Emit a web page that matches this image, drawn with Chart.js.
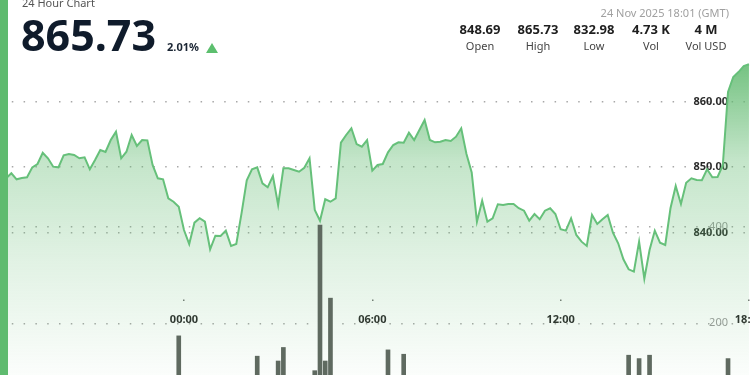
<!DOCTYPE html>
<html>
<head>
<meta charset="utf-8">
<script src="https://cdn.jsdelivr.net/npm/chart.js@4/dist/chart.umd.min.js"></script>
<style>
  html, body { margin: 0; padding: 0; width: 750px; height: 375px; overflow: hidden; background: #fff; font-family: 'Noto Sans', sans-serif; }
  #wrap { position: absolute; left: -20px; top: -20px; width: 840px; height: 460px; }
  #edge { position: absolute; left: 0; top: 0; width: 8px; height: 375px; background: #5fbb6f; z-index: 3; }
  .t { position: absolute; line-height: 1; white-space: nowrap; z-index: 2; }
  .c { transform: translateX(-50%); }
  #title { left: 22px; top: -3px; font-size: 11px; color: #555; }
  #last { left: 21px; top: 13px; font-size: 43px; font-weight: 700; color: #0f1b2b; }
  #chg { left: 167px; top: 41px; font-size: 11px; font-weight: 700; color: #1a2533; }
  #tri { position: absolute; left: 206px; top: 43px; width: 0; height: 0; border-left: 6.5px solid transparent; border-right: 6.5px solid transparent; border-bottom: 10px solid #5cbf6e; z-index: 2; }
  #date { right: 21px; top: 7px; font-size: 11px; color: #a0a0a0; }
  .v { top: 23px; font-size: 13px; font-weight: 700; color: #1e1e1e; }
  .l { top: 40px; font-size: 11px; color: #444; }
</style>
</head>
<body>
<div id="wrap"><canvas id="chart"></canvas></div>
<div id="edge"></div>
<div class="t" id="title">24 Hour Chart</div>
<div class="t" id="last">865.73</div>
<div class="t" id="chg">2.01%</div>
<div id="tri"></div>
<div class="t" id="date">24 Nov 2025 18:01 (GMT)</div>
<div id="stats"></div>
<script>
// minutes from midnight 24 Nov, 10 min steps from 18:10 the day before
const times = [];
for (let m = -350; m <= 1080; m += 10) times.push(m);

const prices = [
  848.69, 848.31, 849.07, 848.15, 848.35, 848.46, 849.98, 850.49, 852.21, 851.36,
  850.08, 849.98, 851.82, 852.02, 851.86, 851.36, 851.51, 849.68, 851.10, 852.63,
  852.32, 854.15, 855.42, 851.36, 852.37, 854.92, 853.24, 854.15, 854.10, 850.34,
  848.31, 848.15, 845.25, 844.73, 843.97, 840.41, 838.27, 841.53, 842.20, 841.68,
  837.47, 839.54, 839.50, 840.31, 837.97, 838.27, 842.96, 848.00, 849.68, 849.98,
  847.54, 846.93, 848.66, 844.23, 849.83, 849.83, 849.57, 849.31, 849.92, 851.36,
  843.47, 841.83, 845.10, 844.73, 845.25, 853.74, 854.92, 855.94, 853.54, 853.13,
  854.15, 849.47, 850.34, 850.49, 852.27, 853.39, 853.80, 853.74, 855.27, 854.15,
  855.68, 857.21, 854.15, 853.80, 853.89, 854.15, 854.00, 854.66, 855.94, 852.02,
  849.19, 841.68, 844.89, 841.68, 842.20, 844.34, 844.23, 844.38, 844.38, 843.73,
  843.36, 841.83, 842.85, 842.05, 843.36, 843.73, 842.85, 840.52, 840.31, 842.20,
  839.65, 838.63, 837.97, 842.70, 841.33, 842.05, 842.70, 840.00, 838.38, 835.94,
  834.41, 834.05, 838.63, 832.98, 837.36, 840.31, 838.47, 838.12, 843.73, 847.13,
  844.38, 847.63, 848.31, 848.05, 848.00, 849.68, 848.46, 848.50, 850.30, 861.50,
  863.77, 864.53, 865.45, 865.73
];

// volume bars (minutes from midnight, -10 = 23:50 previous day)
const volTimes = [-10, 140, 180, 190, 250, 260, 270, 280, 390, 420, 850, 870, 890, 1040];
const volumes  = [174, 132, 122, 150, 102, 403, 122, 252, 145, 136, 134, 127, 134, 127];

const priceTicks = [840, 850, 860];
const volTicks = [200, 400];
const timeTicks = [0, 360, 720, 1080];

const statValues = ['848.69', '865.73', '832.98', '4.73 K', '4 M'];
const statLabels = ['Open', 'High', 'Low', 'Vol', 'Vol USD'];
const statCenters = [480, 538, 594, 651, 706];

const stats = document.getElementById('stats');
statValues.forEach((v, i) => {
  const a = document.createElement('div');
  a.className = 't c v'; a.style.left = statCenters[i] + 'px'; a.textContent = v;
  const b = document.createElement('div');
  b.className = 't c l'; b.style.left = statCenters[i] + 'px'; b.textContent = statLabels[i];
  stats.appendChild(a); stats.appendChild(b);
});

Chart.defaults.font.family = "'Noto Sans', sans-serif";

const dots = { display: false, dash: [1.5, 10.3] };
const gridDots = { color: 'rgba(110,110,110,0.6)', lineWidth: 1.5, drawTicks: false };
const noWidth = s => { s.width = 0; };

function fillGrad(ctx) {
  const chart = ctx.chart;
  const area = chart.chartArea;
  if (!area) return 'rgba(95,185,110,0.3)';
  const g = chart.ctx.createLinearGradient(0, area.top, 0, area.bottom);
  g.addColorStop(0, 'rgba(95,185,110,0.92)');
  g.addColorStop(0.167, 'rgba(95,185,110,0.83)');
  g.addColorStop(0.381, 'rgba(95,185,110,0.37)');
  g.addColorStop(0.619, 'rgba(95,185,110,0.19)');
  g.addColorStop(0.88, 'rgba(95,185,110,0.03)');
  g.addColorStop(1, 'rgba(95,185,110,0)');
  return g;
}

new Chart(document.getElementById('chart'), {
  data: {
    datasets: [
      {
        type: 'bar',
        data: volTimes.map((t, i) => ({ x: t, y: volumes[i] })),
        yAxisID: 'yv',
        backgroundColor: '#5f6a60',
        barThickness: 4,
        order: 0
      },
      {
        type: 'line',
        data: times.map((t, i) => ({ x: t, y: prices[i] })),
        yAxisID: 'y',
        borderColor: '#66c07a',
        borderWidth: 2,
        pointRadius: 0,
        tension: 0,
        fill: 'start',
        backgroundColor: fillGrad,
        order: 1
      }
    ]
  },
  options: {
    responsive: true,
    maintainAspectRatio: false,
    animation: false,
    layout: { padding: { left: 20, top: 20, right: 70, bottom: 20 } },
    plugins: { legend: { display: false }, tooltip: { enabled: false } },
    scales: {
      x: {
        type: 'linear',
        // time labels sit inside the plot, just under the 829.8 price level
        position: { y: 829.8 },
        min: -351.7,
        max: 1082,
        offset: false,
        afterBuildTicks: s => { s.ticks = timeTicks.map(v => ({ value: v })); },
        ticks: {
          padding: 14,
          color: '#2a2a2a',
          font: { size: 11, weight: 'bold' },
          maxRotation: 0,
          autoSkip: false,
          callback: v => String(((v / 60) % 24 + 24) % 24).padStart(2, '0') + ':00'
        },
        // one short mark just above each time label
        grid: { offset: false, drawTicks: false, color: '#777', lineWidth: 1.5 },
        border: { display: false, dash: [0, 299.5, 1.5, 500] }
      },
      y: {
        position: 'right',
        min: 811.4,
        max: 875.53,
        z: 1,
        afterBuildTicks: s => { s.ticks = priceTicks.map(v => ({ value: v })); },
        afterFit: noWidth,
        ticks: {
          mirror: true,
          padding: -22,
          color: '#2a2a2a',
          font: { size: 11, weight: 'bold' },
          callback: v => v.toFixed(2)
        },
        grid: gridDots,
        border: dots
      },
      yv: {
        position: 'right',
        min: 0,
        max: 868.6,
        afterBuildTicks: s => { s.ticks = volTicks.map(v => ({ value: v })); },
        afterFit: noWidth,
        ticks: {
          mirror: true,
          padding: -22,
          color: '#999',
          font: { size: 11 }
        },
        grid: gridDots,
        border: dots
      }
    }
  }
});
</script>
</body>
</html>
